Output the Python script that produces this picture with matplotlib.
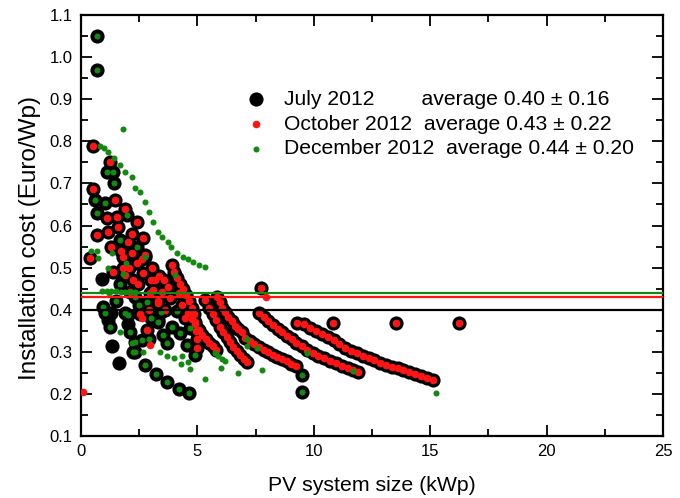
import matplotlib
matplotlib.use("Agg")
import matplotlib.pyplot as plt
import numpy as np

# ---------------------------------------------------------------- data
# points shared by July and October (black ring with red centre)
jo_x = [7.65, 7.85, 8.05, 8.25, 8.45, 8.65, 8.85, 9.05, 9.25, 9.48, 9.7, 9.95,
        10.2, 10.45, 10.7, 10.95, 11.2, 11.45, 11.7, 11.9,
        9.27, 9.6, 9.85, 10.1, 10.35, 10.6, 10.85, 11.1, 11.35, 11.6, 11.85, 12.1,
        12.35, 12.6, 12.85, 13.1, 13.35, 13.6, 13.85, 14.1, 14.35, 14.6, 14.85, 15.1,
        7.04, 7.24, 7.44, 7.64, 7.84, 8.04, 8.24, 8.44, 8.64, 8.84, 9.04, 9.24,
        5.33, 5.5, 5.65, 5.8, 5.95, 6.1, 6.25, 6.4, 6.55, 6.7, 6.85, 7.0, 7.15,
        5.83, 5.95, 6.07, 6.2, 6.33, 6.47, 6.6, 6.75, 6.9,
        3.9, 4.0, 4.12, 4.25, 4.38, 4.5, 4.62, 4.75, 4.85, 4.9, 4.95, 4.97, 4.97,
        4.6, 4.75, 4.9, 5.05, 5.2, 5.35, 5.5, 5.65, 5.8,
        7.72, 10.81, 13.52, 16.25, 0.5,
        1.25, 0.53, 1.46, 1.89, 1.1, 2.39, 1.6, 1.17, 0.67, 2.68, 0.39, 1.82, 1.82,
        3.04, 2.75, 2.1, 1.39, 2.39, 2.18, 2.68, 3.1, 3.46, 3.82, 4.47, 2.82, 1.89,
        2.45, 3.0, 1.55, 2.0, 2.9, 3.3, 3.6, 3.2, 2.55, 3.75, 4.2,
        2.2, 2.6, 3.35, 1.7, 2.95, 3.55, 4.35, 2.25, 1.3, 2.05]
jo_y = [.392, .382, .372, .363, .354, .346, .338, .330, .322, .313, .305, .298,
        .291, .285, .279, .273, .267, .261, .256, .251,
        .368, .366, .356, .350, .343, .334, .327, .318, .309, .302, .296, .290,
        .285, .280, .274, .269, .265, .261, .256, .252, .247, .243, .238, .233,
        .332, .325, .318, .311, .305, .299, .293, .287, .282, .277, .272, .267,
        .423, .405, .390, .375, .360, .347, .335, .323, .312, .302, .292, .283, .275,
        .431, .418, .405, .394, .383, .372, .362, .354, .347,
        .506, .490, .475, .462, .448, .435, .420, .405, .390, .370, .350, .330, .310,
        .392, .378, .365, .352, .341, .331, .322, .313, .305,
        .451, .369, .369, .369, .790,
        .752, .686, .660, .640, .617, .609, .597, .585, .577, .570, .522, .526, .500,
        .498, .530, .443, .490, .510, .535, .487, .447, .443, .428, .380, .352, .483,
        .460, .470, .620, .560, .400, .420, .400, .470, .390, .455, .440,
        .580, .520, .480, .540, .440, .470, .410, .470, .550, .500]

# points shared by July and December (black ring with green centre)
jd_x = [0.7, 0.7, 1.13, 1.39, 1.43, 0.6, 1.03, 0.67, 1.96, 1.68, 2.39, 2.75, 4.04,
        0.96, 1.03, 1.24, 2.03, 2.1, 2.32, 1.89, 2.32, 2.25, 2.6,
        2.75, 3.22, 3.69, 4.21, 4.64,
        3.54, 4.25, 4.54, 4.9, 2.82, 2.32, 1.67, 1.82, 4.11, 4.68, 9.48, 9.48,
        3.3, 3.0, 3.9, 2.5, 1.5, 2.9, 3.45, 1.95, 3.7]
jd_y = [1.05, .970, .728, .728, .700, .660, .653, .630, .625, .566, .550, .526, .482,
        .407, .391, .360, .387, .348, .300, .391, .324, .300, .328,
        .268, .247, .229, .212, .203,
        .340, .345, .317, .293, .418, .430, .460, .485, .398, .357, .205, .245,
        .370, .380, .360, .410, .420, .330, .395, .510, .320]

# July only
j_x = [0.89, 1.33, 1.65, 2.03, 1.17, 3.32, 1.3]
j_y = [.473, .314, .273, .367, .376, .376, .392]

# October only
o_x = [0.1, 7.95, 2.96, 3.32, 2.6]
o_y = [.205, .431, .317, .415, .380]

# December only
d_x = [0.8, 1.0, 1.17, 1.4, 1.68, 1.89, 2.18, 2.32, 2.53, 2.75, 2.93, 3.1, 3.32,
       3.5, 3.72, 3.87, 4.14, 4.4, 4.6, 4.8, 5.05, 5.33,
       1.8, 15.25,
       0.9, 1.1, 1.3, 1.5, 1.7, 1.9, 2.1, 2.3,
       0.67, 0.74, 1.32, 1.17, 0.45, 1.2, 1.67, 2.2, 2.65,
       3.4, 3.7, 4.0, 4.3, 4.7, 5.33, 4.33, 4.61,
       5.76, 5.9, 6.05, 6.19, 6.76, 7.76, 7.12, 7.12, 7.55, 9.7, 11.67, 6.0]
d_y = [.790, .785, .775, .760, .744, .728, .716, .688, .680, .656, .633, .609, .585,
       .572, .560, .550, .535, .524, .520, .513, .507, .502,
       .830, .203,
       .445, .445, .444, .444, .443, .443, .442, .442,
       .540, .522, .534, .500, .540, .440, .348, .320, .300,
       .300, .290, .285, .270, .260, .235, .290, .275,
       .297, .290, .283, .277, .249, .257, .330, .314, .310, .298, .255, .262]

avg_july, avg_oct, avg_dec = 0.40, 0.43, 0.44

labels = ["July 2012        average 0.40 \u00b1 0.16",
          "October 2012  average 0.43 \u00b1 0.22",
          "December 2012  average 0.44 \u00b1 0.20"]

july_x = jo_x + jd_x + j_x
july_y = jo_y + jd_y + j_y
oct_x = jo_x + o_x
oct_y = jo_y + o_y
dec_x = jd_x + d_x
dec_y = jd_y + d_y

# ---------------------------------------------------------------- figure
plt.rcParams.update({"font.family": ["Liberation Sans", "DejaVu Sans"]})
RED, GREEN = "#ff1414", "#13890f"

fig = plt.figure(figsize=(6.8, 4.98), dpi=100)
ax = fig.add_axes([81 / 680, 1 - 436 / 498, 582 / 680, 421 / 498])

ax.scatter(july_x, july_y, s=104, c="black", lw=0, zorder=2, label=labels[0])
ax.scatter(oct_x, oct_y, s=30, c=RED, lw=0, zorder=3, label=labels[1])
ax.scatter(dec_x, dec_y, s=19, c=GREEN, lw=0, zorder=3.5, label=labels[2])

ax.axhline(avg_july, color="black", lw=1.6, zorder=4)
ax.axhline(avg_oct, color=RED, lw=1.6, zorder=4)
ax.axhline(avg_dec, color=GREEN, lw=1.6, zorder=4)

ax.set_xlim(0, 25)
ax.set_ylim(0.1, 1.1)
ax.set_xticks(np.arange(0, 26, 5))
ax.set_xticks(np.arange(2.5, 25, 5), minor=True)
ax.set_yticks(np.arange(0.1, 1.11, 0.1))
ax.set_yticks(np.arange(0.15, 1.1, 0.1), minor=True)
ax.set_yticklabels([f"{v:.1f}" for v in np.arange(0.1, 1.11, 0.1)])
ax.tick_params(which="both", direction="in", top=True, right=True,
               width=1.3, labelsize=12, pad=6)
ax.tick_params(which="major", length=8)
ax.tick_params(which="minor", length=5)
for sp in ax.spines.values():
    sp.set_linewidth(1.6)

ax.set_xlabel("PV system size (kWp)", fontsize=15.3, labelpad=12)
ax.set_ylabel("Installation cost (Euro/Wp)", fontsize=17.5)
ax.yaxis.set_label_coords(-0.068, 0.47)

ax.legend(loc="upper left", bbox_to_anchor=(0.282, 0.822), frameon=False,
          fontsize=15.2, handlelength=1.0, handletextpad=0.85,
          labelspacing=0.27, borderpad=0, borderaxespad=0, scatterpoints=1)

fig.savefig("out.png", dpi=100)
